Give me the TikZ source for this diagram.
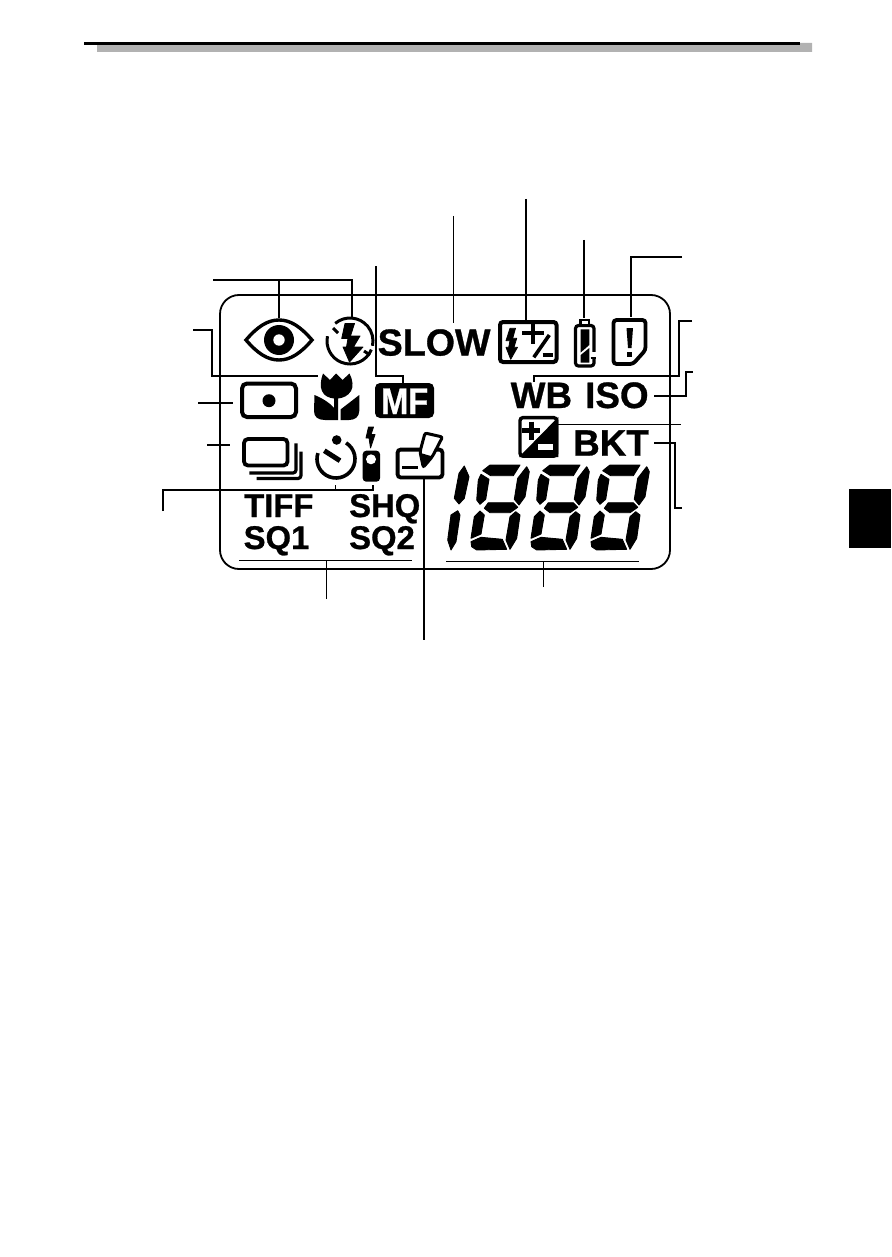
\documentclass[tikz,border=0pt]{standalone}
\usepackage{fontspec}
\newfontfamily\lcdfont{Liberation Sans}[BoldFeatures={FakeBold=0.8}]
\usetikzlibrary{positioning, calc}

\begin{document}
\begin{tikzpicture}[
    x=1pt, y=-1pt,
    lcdlabel/.style={anchor=base west, inner sep=0pt, font=\lcdfont\bfseries\fontsize{36.8}{37}\selectfont},
    modelabel/.style={anchor=base west, inner sep=0pt, font=\lcdfont\bfseries\fontsize{32.8}{33}\selectfont},
    leader/.style={draw, line width=1.3pt},
    thinleader/.style={draw, line width=0.9pt},
    outline/.style={draw, line width=3.6pt, rounded corners=3pt},
    solidicon/.style={fill=black, draw=black, line width=0.8pt, line join=round},
    segment/.style={fill=black, draw=black, line width=0.9pt, line join=round}
]
    \useasboundingbox (0,0) rectangle (891,1257);

    % Page header and side tab
    \fill [black!30] (97,45) -- (800,45) -- (800,43) -- (812,43) -- (812,52) -- (97,52) -- cycle;
    \fill [black] (84,42) rectangle (800,45);
    \fill [black] (849,489) rectangle (891,548);

    % Panel
    \draw [line width=1.8pt, rounded corners=19pt] (220,295) rectangle (670,569);

    % Text on the panel
    \node [lcdlabel, font=\lcdfont\bfseries\fontsize{37.6}{38}\selectfont] (slow) at (377.5,355.5) {SLOW};
    \node [lcdlabel] (wb) at (510.5,408) {WB};
    \node [lcdlabel] (iso) at (585,408) {ISO};
    \node [lcdlabel] (bkt) at (573,455.7) {BKT};
    \node [modelabel] (tiff) at (244,517) {TIFF};
    \node [modelabel] (shq) at (349,517) {SHQ};
    \node [modelabel] (sqone) at (243.5,549) {SQ1};
    \node [modelabel] (sqtwo) at (349,549) {SQ2};

    % Eye
    \draw [line width=3.4pt] (246,340) .. controls (258,326) and (268,320) .. (279,320)
        .. controls (290,320) and (300,326) .. (312,340)
        .. controls (300,354) and (290,360) .. (279,360)
        .. controls (268,360) and (258,354) .. (246,340) -- cycle;
    \fill [black] (279,340) circle (15);
    \fill [white] (279,340) circle (5.7);

    % Flash off
    \draw [line width=3pt] (350,341) ++(-130:23) arc[start angle=-130, end angle=12, radius=23];
    \draw [line width=3pt] (350,341) ++(22:23) arc[start angle=22, end angle=192, radius=23];
    \draw [line width=3pt] (333,328) -- (338,333);
    \draw [line width=3pt] (364,351) -- (370,355);
    \fill [solidicon] (345,323.5) -- (354.5,323.5) -- (350.5,336) -- (360,336) -- (353.5,347) -- (363,347)
        -- (349.5,362) -- (343,347) -- (346.5,347) -- (348,338.5) -- (341.7,338.5) -- cycle;

    % Macro
    \fill [black] (323,373.5) -- (330,380) -- (336,373.5) -- (342.5,380) -- (349.5,373.5)
        .. controls (353,380) and (353.5,387) .. (351,391)
        .. controls (348,396) and (343,398) .. (338,398.5) -- (338,420) -- (325,420)
        .. controls (318,420) and (314,417) .. (314,411) -- (314.5,395)
        .. controls (322,398) and (330,403) .. (334,408) -- (334,398.5)
        .. controls (329,398) and (324,396) .. (322,391)
        .. controls (320,387) and (320.5,380) .. (323,373.5) -- cycle;
    \fill [black] (340.5,420) -- (340.5,409.5) -- (359.3,395) -- (359.3,411)
        .. controls (359,417) and (355,420) .. (349,420) -- cycle;

    % MF
    \fill [black, rounded corners=5pt] (375,383) rectangle (434,418);
    \node [lcdlabel, text=white, xscale=.88, transform shape, font=\lcdfont\bfseries\fontsize{37}{37}\selectfont] (mf) at (381,414) {MF};

    % Spot
    \draw [outline, line width=4pt, rounded corners=5pt] (242,383.5) rectangle (296,417);
    \fill [black] (269,400.7) circle (6.5);

    % Flash compensation
    \draw [outline, line width=4pt] (500,322) rectangle (556.5,362);
    \fill [solidicon] (510,328.3) -- (515.5,328.3) -- (512.7,338.3) -- (516.7,338.3) -- (514,347.3) -- (517.5,347.3)
        -- (510.7,359.3) -- (506,347.3) -- (508.7,347.3) -- (510,340.7) -- (506,340.7) -- cycle;
    \draw [line width=4pt] (522,333.3) -- (543.5,333.3) (532.7,323) -- (532.7,344);
    \draw [line width=3.6pt] (549.3,335) -- (533.8,357.3);
    \draw [line width=4pt] (542.7,355) -- (552.7,355);

    % Battery
    \draw [outline, line width=3.2pt, rounded corners=3pt] (575.5,325.5) rectangle (594,366);
    \fill [black] (579.3,319) rectangle (590,325);
    \fill [white] (581.5,321) rectangle (588,324);
    \fill [black] (580.7,329.3) -- (589.3,329.3) -- (589.3,345) -- (580.7,352.5) -- cycle;
    \fill [black] (580.7,355) -- (589.3,348) -- (589.3,362.7) -- (580.7,362.7) -- cycle;
    \fill [white] (590.5,351.5) rectangle (597,356.5);
    \draw [line width=1.5pt] (590.5,358) -- (595.5,358);

    % Card
    \draw [outline, line width=3.8pt] (613.5,320) -- (645.5,320) -- (645.5,350) -- (633,364) -- (613.5,364) -- cycle;
    \fill [black] (626.5,328) -- (633,328) -- (631.5,348) -- (628,348) -- cycle;
    \fill [black] (627,352) rectangle (632,357);

    % Exposure compensation
    \fill [black] (558.3,417) -- (558.3,457) -- (519,457) -- cycle;
    \draw [outline, line width=3.4pt] (520,417.6) rectangle (556.7,456.2);
    \draw [line width=5pt] (522,430.7) -- (540,430.7) (531,421.7) -- (531,439.7);
    \fill [white] (538.3,444.3) rectangle (553.3,450);

    % Drive
    \draw [outline, line width=3.8pt, rounded corners=4pt] (244,439) rectangle (287.5,465.5);
    \draw [line width=3.2pt, rounded corners=3pt] (296,443.3) -- (296,473) -- (249.3,473);
    \draw [line width=3.2pt, rounded corners=3pt] (301,451.7) -- (301,478.5) -- (256.7,478.5);

    % Self timer
    \draw [line width=3.6pt] (336,459) ++(-58:19) arc[start angle=-58, end angle=198, radius=19];
    \draw [line width=5pt] (324.3,450.7) -- (340,460.7);
    \fill [black] (336.7,440) circle (4.8);

    % Remote
    \fill [solidicon] (368.5,427) -- (373.5,427) -- (371,434.5) -- (375,434.5) -- (370.5,448) -- (369,438) -- (366,438) -- cycle;
    \fill [black, rounded corners=3.5pt] (362.7,450.7) rectangle (380,481.7);
    \fill [white] (371,459.3) circle (5);

    % Write
    \draw [outline, line width=3.8pt] (397.6,449.6) rectangle (442.4,477.4);
    \draw [line width=3pt] (402.3,467.3) -- (417.7,467.3);
    \draw [fill=white, line width=3pt, rounded corners=2pt] (425,433) -- (442.5,437) -- (432.3,456.7) -- (423.3,467.3) -- (420,451.7) -- cycle;
    \fill [black] (420.5,453) -- (432.5,456.5) -- (423.5,468) -- cycle;

    % Digits
    \fill [segment] (464.3,466) -- (469,476.7) -- (464.3,498.3) -- (459,504) -- (454.3,498.3) -- (459,473.3) -- cycle;
    \fill [segment] (457.7,510.7) -- (460,515) -- (456,541.7) -- (451,550) -- (447.7,540) -- (451,515) -- cycle;
    \foreach \dx in {0,60,120} {
        \begin{scope}[xshift=\dx pt]
            \fill [segment] (490,465) -- (520,465) -- (513.3,475.7) -- (490.7,475.7) -- (482.7,470.7) -- cycle;
            \fill [segment] (481,474.3) -- (489,479.3) -- (485.7,499.3) -- (480,504.3) -- (476.7,500) -- (478.3,480) -- cycle;
            \fill [segment] (526.7,466.7) -- (529.3,471.7) -- (525,496.7) -- (519,505) -- (514.3,499.3) -- (517.7,478.3) -- cycle;
            \fill [segment] (488.3,502.7) -- (484.3,508.3) -- (490,512.7) -- (510,512.7) -- (517.7,507.3) -- (513.3,502.7) -- cycle;
            \fill [segment] (480,511) -- (484.3,515) -- (481,534) -- (471,538.3) -- (474.3,516.7) -- cycle;
            \fill [segment] (515.7,511.7) -- (520,515) -- (516.7,538.3) -- (510,549.3) -- (506,540) -- (510,516.7) -- cycle;
            \fill [segment] (471,541.7) -- (481,537.3) -- (502.3,539.3) -- (506.7,549.3) -- (476.7,550) -- (471.7,546.7) -- cycle;
        \end{scope}
    }

    % Leader ends
    \coordinate (eyetop) at (279,318);
    \coordinate (flashtop) at (352,317);
    \coordinate (redeyefree) at (213,280);
    \coordinate (macrotag) at (318,376);
    \coordinate (macrofree) at (193,330);
    \coordinate (spottag) at (233,403);
    \coordinate (spotfree) at (198,403);
    \coordinate (mftop) at (403,384);
    \coordinate (mffree) at (376,266);
    \coordinate (slowtop) at (453,323);
    \coordinate (slowfree) at (453,216);
    \coordinate (fillcomptop) at (526,320);
    \coordinate (fillcompfree) at (526,199);
    \coordinate (batterytop) at (584,318);
    \coordinate (batteryfree) at (584,240);
    \coordinate (cardtop) at (631,317);
    \coordinate (cardfree) at (682,257);
    \coordinate (wbtop) at (534,382);
    \coordinate (wbfree) at (692,321);
    \coordinate (isotag) at (654,396);
    \coordinate (isofree) at (693,372);
    \coordinate (expotag) at (556,424);
    \coordinate (expofree) at (681,424);
    \coordinate (bkttag) at (654,443);
    \coordinate (bktfree) at (682,508);
    \coordinate (drivetag) at (230,445);
    \coordinate (drivefree) at (207,445);
    \coordinate (timertick) at (335,485);
    \coordinate (remotetick) at (373,485);
    \coordinate (timerfree) at (163,511);
    \coordinate (timerjoin) at (373,490);
    \coordinate (modeleft) at (239,560);
    \coordinate (moderight) at (412,560);
    \coordinate (modefree) at (326,599);
    \coordinate (digitleft) at (446,561);
    \coordinate (digitright) at (639,561);
    \coordinate (digitfree) at (543,587);
    \coordinate (writetag) at (424,479);
    \coordinate (writefree) at (424,640);

    % Leaders
    \draw [leader] (redeyefree) -| (flashtop);
    \draw [leader] (eyetop) -- (eyetop |- redeyefree);
    \draw [leader] (macrofree) -- ++(19,0) |- (macrotag);
    \draw [leader] (spotfree) -- (spottag);
    \draw [leader] (mffree) |- (mftop |- macrotag) -- (mftop);
    \draw [thinleader] (slowfree) -- (slowtop);
    \draw [leader] (fillcompfree) -- (fillcomptop);
    \draw [leader] (batteryfree) -- (batterytop);
    \draw [leader] (cardfree) -| (cardtop);
    \draw [leader] (wbfree) -- ++(-13,0) |- (wbtop |- macrotag) -- (wbtop);
    \draw [leader] (isotag) -- ++(32,0) |- (isofree);
    \draw [thinleader] (expotag) -- (expofree);
    \draw [leader] (bkttag) -- ++(21,0) |- (bktfree);
    \draw [leader] (drivefree) -- (drivetag);
    \draw [leader] (timerfree) |- (timerjoin) -- (remotetick);
    \draw [thinleader] (timertick) -- (timertick |- timerjoin);
    \draw [thinleader] (modeleft) -- (moderight);
    \draw [thinleader] (modefree) -- (modefree |- modeleft);
    \draw [thinleader] (digitleft) -- (digitright);
    \draw [thinleader] (digitfree) -- (digitfree |- digitleft);
    \draw [leader] (writetag) -- (writefree);

\end{tikzpicture}
\end{document}
